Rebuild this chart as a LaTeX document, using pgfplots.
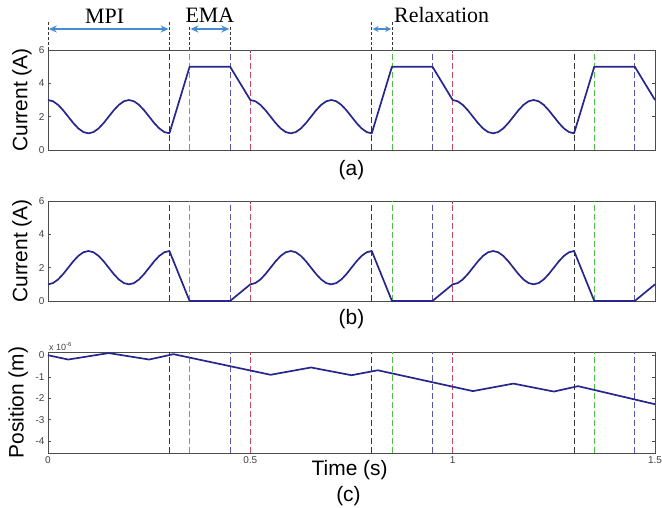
\documentclass[border=0pt]{standalone}
\usepackage{fontspec}
\setmainfont{Liberation Serif}
\setsansfont{Liberation Sans}
\usepackage{pgfplots}
\pgfplotsset{compat=1.18}
\usepackage{pgfplotstable}
\usetikzlibrary{arrows.meta}

\definecolor{curve}{RGB}{38,38,140}
\definecolor{vblack}{RGB}{55,55,55}
\definecolor{vgreen}{RGB}{80,190,70}
\definecolor{vblue}{RGB}{85,85,170}
\definecolor{vred}{RGB}{200,70,95}
\definecolor{arrowblue}{RGB}{70,140,210}

% panel (a): current, MPI -> EMA -> relaxation
\pgfplotstableread{
t a
0 3
0.0125 2.924
0.025 2.707
0.0375 2.383
0.05 2
0.0625 1.617
0.075 1.293
0.0875 1.076
0.1 1
0.1125 1.076
0.125 1.293
0.1375 1.617
0.15 2
0.1625 2.383
0.175 2.707
0.1875 2.924
0.2 3
0.2125 2.924
0.225 2.707
0.2375 2.383
0.25 2
0.2625 1.617
0.275 1.293
0.2875 1.076
0.3 1
0.35 5
0.45 5
0.5 3
0.5125 2.924
0.525 2.707
0.5375 2.383
0.55 2
0.5625 1.617
0.575 1.293
0.5875 1.076
0.6 1
0.6125 1.076
0.625 1.293
0.6375 1.617
0.65 2
0.6625 2.383
0.675 2.707
0.6875 2.924
0.7 3
0.7125 2.924
0.725 2.707
0.7375 2.383
0.75 2
0.7625 1.617
0.775 1.293
0.7875 1.076
0.8 1
0.85 5
0.95 5
1.0 3
1.0125 2.924
1.025 2.707
1.0375 2.383
1.05 2
1.0625 1.617
1.075 1.293
1.0875 1.076
1.1 1
1.1125 1.076
1.125 1.293
1.1375 1.617
1.15 2
1.1625 2.383
1.175 2.707
1.1875 2.924
1.2 3
1.2125 2.924
1.225 2.707
1.2375 2.383
1.25 2
1.2625 1.617
1.275 1.293
1.2875 1.076
1.3 1
1.35 5
1.45 5
1.5 3
}\tabA

% panel (b)
\pgfplotstableread{
t b
0 1
0.0125 1.076
0.025 1.293
0.0375 1.617
0.05 2
0.0625 2.383
0.075 2.707
0.0875 2.924
0.1 3
0.1125 2.924
0.125 2.707
0.1375 2.383
0.15 2
0.1625 1.617
0.175 1.293
0.1875 1.076
0.2 1
0.2125 1.076
0.225 1.293
0.2375 1.617
0.25 2
0.2625 2.383
0.275 2.707
0.2875 2.924
0.3 3
0.35 0
0.45 0
0.5 1
0.5125 1.076
0.525 1.293
0.5375 1.617
0.55 2
0.5625 2.383
0.575 2.707
0.5875 2.924
0.6 3
0.6125 2.924
0.625 2.707
0.6375 2.383
0.65 2
0.6625 1.617
0.675 1.293
0.6875 1.076
0.7 1
0.7125 1.076
0.725 1.293
0.7375 1.617
0.75 2
0.7625 2.383
0.775 2.707
0.7875 2.924
0.8 3
0.85 0
0.95 0
1.0 1
1.0125 1.076
1.025 1.293
1.0375 1.617
1.05 2
1.0625 2.383
1.075 2.707
1.0875 2.924
1.1 3
1.1125 2.924
1.125 2.707
1.1375 2.383
1.15 2
1.1625 1.617
1.175 1.293
1.1875 1.076
1.2 1
1.2125 1.076
1.225 1.293
1.2375 1.617
1.25 2
1.2625 2.383
1.275 2.707
1.2875 2.924
1.3 3
1.35 0
1.45 0
1.5 1
}\tabB

% panel (c): position in 1e-6 m
\pgfplotstableread{
t c
0 0
0.05 -0.2
0.15 0.1
0.25 -0.2
0.31 0.05
0.55 -0.91
0.65 -0.57
0.75 -0.93
0.815 -0.70
1.05 -1.67
1.15 -1.32
1.25 -1.69
1.31 -1.44
1.5 -2.28
}\tabC

\pgfplotsset{
  panel/.style={
    scale only axis, width=607bp, height=100bp,
    xmin=0, xmax=1.5, xtick={0,0.5,1,1.5},
    tick align=inside, major tick length=3bp,
    tick style={color=black!70, line width=0.4pt},
    axis line style={black!70, line width=0.6pt},
    tick label style={font=\sffamily\fontsize{10}{11}\selectfont, text=black!75},
    label style={font=\sffamily\fontsize{21}{23}\selectfont},
    ylabel style={at={(axis description cs:-0.043,0.5)}, anchor=center},
    /pgf/number format/assume math mode=true,
    clip=false,
  },
  vl/.style={line width=0.8pt, dash pattern=on 6bp off 3bp, forget plot},
  sig/.style={curve, line width=1.7bp, no marks, line join=round},
}

\begin{document}
\begin{tikzpicture}
\path[use as bounding box] (0,0) rectangle (662bp,-508bp);

% ---- (a)
\begin{axis}[panel, at={(48bp,-50bp)}, anchor=north west,
  ymin=0, ymax=6, ytick={0,2,4,6}, xticklabels={},
  ylabel={Current (A)}]
\addplot[vl, vblack] coordinates {(0.3,0) (0.3,6)};
\addplot[vl, vblack] coordinates {(0.8,0) (0.8,6)};
\addplot[vl, vblack] coordinates {(1.3,0) (1.3,6)};
\addplot[vl, vgreen] coordinates {(0.35,0) (0.35,6)};
\addplot[vl, vgreen] coordinates {(0.85,0) (0.85,6)};
\addplot[vl, vgreen] coordinates {(1.35,0) (1.35,6)};
\addplot[vl, vblue] coordinates {(0.45,0) (0.45,6)};
\addplot[vl, vblue] coordinates {(0.95,0) (0.95,6)};
\addplot[vl, vblue] coordinates {(1.45,0) (1.45,6)};
\addplot[vl, vred] coordinates {(0.5,0) (0.5,6)};
\addplot[vl, vred] coordinates {(1.0,0) (1.0,6)};
\addplot[sig] table[x=t, y=a] {\tabA};
% phase annotations above the panel
\draw[vblack, line width=0.5pt, dash pattern=on 3bp off 2bp]
  (axis cs:0,6) -- (axis cs:0,7.7)
  (axis cs:0.3,6) -- (axis cs:0.3,7.7)
  (axis cs:0.35,6) -- (axis cs:0.35,7.5)
  (axis cs:0.45,6) -- (axis cs:0.45,7.5)
  (axis cs:0.8,6) -- (axis cs:0.8,7.7)
  (axis cs:0.85,6) -- (axis cs:0.85,7.7);
\draw[arrowblue, line width=1.5bp, {Stealth[length=8bp,width=7bp]}-{Stealth[length=8bp,width=7bp]}]
  (axis cs:0.002,7.26) -- (axis cs:0.298,7.26);
\draw[arrowblue, line width=1.5bp, {Stealth[length=8bp,width=7bp]}-{Stealth[length=8bp,width=7bp]}]
  (axis cs:0.352,7.26) -- (axis cs:0.448,7.26);
\draw[arrowblue, line width=1.5bp, {Stealth[length=6bp,width=6bp]}-{Stealth[length=6bp,width=6bp]}]
  (axis cs:0.802,7.26) -- (axis cs:0.848,7.26);
\node[font=\fontsize{22}{24}\selectfont] at (axis cs:0.14,8.0) {MPI};
\node[font=\fontsize{22}{24}\selectfont] at (axis cs:0.40,8.1) {EMA};
\node[font=\fontsize{22}{24}\selectfont, anchor=west, inner sep=0pt] at (axis cs:0.855,8.1) {Relaxation};
\node[font=\sffamily\fontsize{21}{23}\selectfont] at (axis description cs:0.5,-0.2) {(a)};
\end{axis}

% ---- (b)
\begin{axis}[panel, at={(48bp,-201bp)}, anchor=north west,
  ymin=0, ymax=6, ytick={0,2,4,6}, xticklabels={},
  ylabel={Current (A)}]
\addplot[vl, vblack] coordinates {(0.3,0) (0.3,6)};
\addplot[vl, vblack] coordinates {(0.8,0) (0.8,6)};
\addplot[vl, vblack] coordinates {(1.3,0) (1.3,6)};
\addplot[vl, vgreen] coordinates {(0.35,0) (0.35,6)};
\addplot[vl, vgreen] coordinates {(0.85,0) (0.85,6)};
\addplot[vl, vgreen] coordinates {(1.35,0) (1.35,6)};
\addplot[vl, vblue] coordinates {(0.45,0) (0.45,6)};
\addplot[vl, vblue] coordinates {(0.95,0) (0.95,6)};
\addplot[vl, vblue] coordinates {(1.45,0) (1.45,6)};
\addplot[vl, vred] coordinates {(0.5,0) (0.5,6)};
\addplot[vl, vred] coordinates {(1.0,0) (1.0,6)};
\addplot[sig] table[x=t, y=b] {\tabB};
\node[font=\sffamily\fontsize{21}{23}\selectfont] at (axis description cs:0.5,-0.18) {(b)};
\end{axis}

% ---- (c)
\begin{axis}[panel, at={(48bp,-352bp)}, anchor=north west, height=101bp,
  ymin=-4.55, ymax=0.15, ytick={-4,-3,-2,-1,0},
  yticklabels={-4,-3,-2,-1,0}, xticklabels={0,0.5,1,1.5},
  ylabel={Position (m)},
  ylabel style={at={(axis description cs:-0.049,0.5)}, anchor=center},
  xlabel={Time (s)},
  xlabel style={at={(axis description cs:0.497,-0.165)}, anchor=center}]
\addplot[vl, vblack] coordinates {(0.3,-4.55) (0.3,0.15)};
\addplot[vl, vblack] coordinates {(0.8,-4.55) (0.8,0.15)};
\addplot[vl, vblack] coordinates {(1.3,-4.55) (1.3,0.15)};
\addplot[vl, vgreen] coordinates {(0.35,-4.55) (0.35,0.15)};
\addplot[vl, vgreen] coordinates {(0.85,-4.55) (0.85,0.15)};
\addplot[vl, vgreen] coordinates {(1.35,-4.55) (1.35,0.15)};
\addplot[vl, vblue] coordinates {(0.45,-4.55) (0.45,0.15)};
\addplot[vl, vblue] coordinates {(0.95,-4.55) (0.95,0.15)};
\addplot[vl, vblue] coordinates {(1.45,-4.55) (1.45,0.15)};
\addplot[vl, vred] coordinates {(0.5,-4.55) (0.5,0.15)};
\addplot[vl, vred] coordinates {(1.0,-4.55) (1.0,0.15)};
\addplot[sig] table[x=t, y=c] {\tabC};
\node[font=\sffamily\fontsize{9}{10}\selectfont, text=black!75, anchor=south west, inner sep=1bp]
  at (axis description cs:0,1) {x 10\textsuperscript{-6}};
\node[font=\sffamily\fontsize{21}{23}\selectfont] at (axis description cs:0.495,-0.43) {(c)};
\end{axis}
\end{tikzpicture}
\end{document}
